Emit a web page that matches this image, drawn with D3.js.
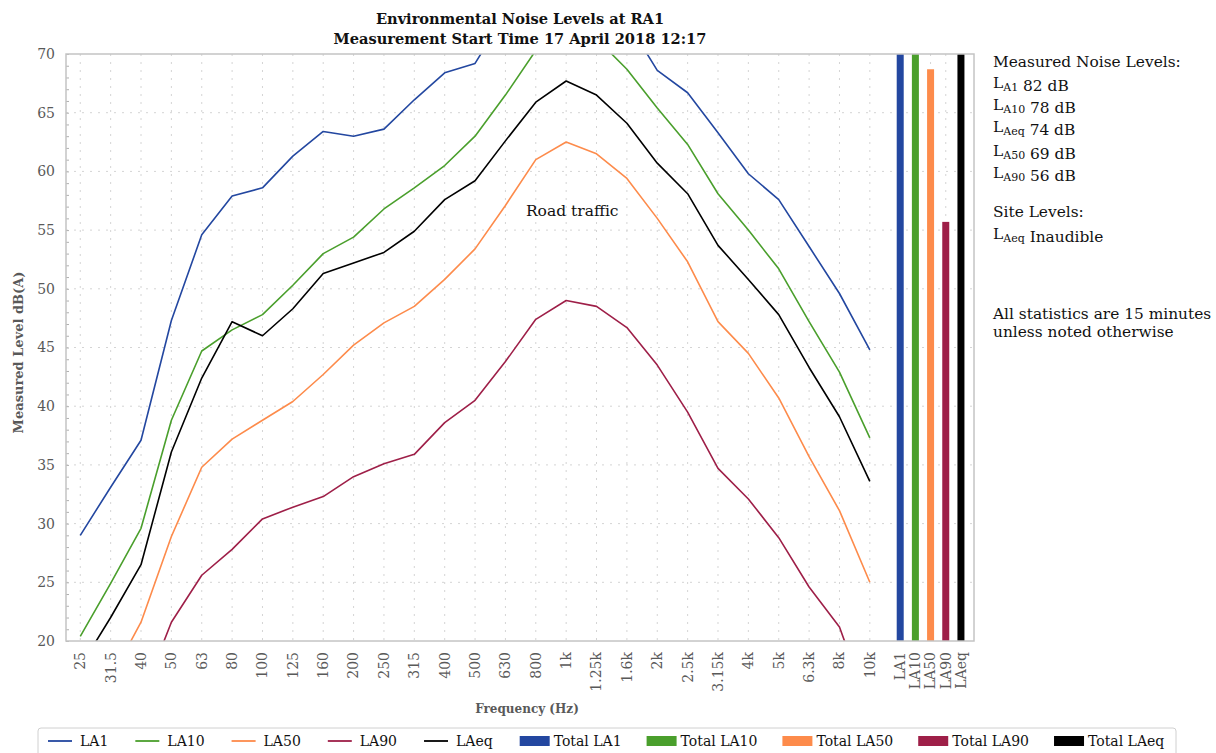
<!DOCTYPE html>
<html lang="en">
<head>
<meta charset="UTF-8">
<script src="https://cdn.jsdelivr.net/npm/d3@7"></script>
<title>Environmental Noise Levels at RA1</title>
<style>
    body { margin: 0; background: #fff; }
    text { font-family: "DejaVu Serif", serif; }
</style>
</head>
<body>
<div id="chart"></div>
<script>
// third-octave bands + overall columns
const freqLabels = ["25","31.5","40","50","63","80","100","125","160","200","250","315","400","500",
    "630","800","1k","1.25k","1.6k","2k","2.5k","3.15k","4k","5k","6.3k","8k","10k"];
const totalLabels = ["LA1","LA10","LA50","LA90","LAeq"];

const la1  = [29.0,33.1,37.1,47.3,54.6,57.9,58.6,61.3,63.4,63.0,63.6,66.1,68.4,69.2,
    73.4,75.5,76.5,75.5,72.8,68.6,66.7,63.3,59.8,57.6,53.6,49.6,44.8];
const la10 = [20.4,24.9,29.6,38.8,44.7,46.5,47.8,50.3,53.0,54.4,56.8,58.6,60.5,63.0,
    66.5,70.3,72.0,71.3,68.7,65.4,62.3,58.1,55.0,51.7,47.2,42.9,37.3];
const la50 = [14.0,16.8,21.6,28.9,34.8,37.2,38.8,40.4,42.7,45.2,47.1,48.5,50.8,53.4,
    57.1,61.0,62.5,61.5,59.4,56.0,52.3,47.2,44.5,40.7,35.7,31.1,25.0];
const la90 = [10.0,12.0,15.0,21.6,25.6,27.8,30.4,31.4,32.3,34.0,35.1,35.9,38.6,40.5,
    43.8,47.4,49.0,48.5,46.7,43.5,39.5,34.7,32.1,28.8,24.6,21.2,14.0];
const laeq = [17.8,22.0,26.5,36.1,42.4,47.2,46.0,48.3,51.3,52.2,53.1,54.9,57.6,59.2,
    62.6,65.9,67.7,66.5,64.1,60.7,58.1,53.7,50.8,47.8,43.3,39.1,33.6];
const totals = [82, 78, 68.7, 55.7, 74];

const seriesNames = ["LA1","LA10","LA50","LA90","LAeq"];
const seriesData = [la1, la10, la50, la90, laeq];
const seriesColors = ["#2347a0","#4a9f2c","#fd8b4b","#9e1f48","#000000"];

const yTicks = [20,25,30,35,40,45,50,55,60,65,70];

const W = 1216, H = 753;
const plot = {left: 66, right: 974, top: 54, bottom: 641};
const axisGrey = "#595959";

const svg = d3.select("#chart").append("svg")
    .attr("width", W)
    .attr("height", H);

// category positions: bands at 0..26, overall columns half a step apart after that
const catPos = freqLabels.map((d, i) => i)
    .concat(totalLabels.map((d, j) => freqLabels.length + j * 0.5));

const x = d3.scaleLinear().domain([-0.47, 29.43]).range([plot.left, plot.right]);
const y = d3.scaleLinear().domain([20, 70]).range([plot.bottom, plot.top]);

svg.append("clipPath").attr("id", "clip")
    .append("rect")
    .attr("x", plot.left).attr("y", plot.top)
    .attr("width", plot.right - plot.left)
    .attr("height", plot.bottom - plot.top);

// grid
svg.append("g").selectAll("line")
    .data(catPos)
    .join("line")
    .attr("x1", d => x(d)).attr("x2", d => x(d))
    .attr("y1", plot.top).attr("y2", plot.bottom)
    .attr("stroke", "#d4d4d4")
    .attr("stroke-dasharray", "2,6");

svg.append("g").selectAll("line")
    .data(yTicks.slice(1, -1))
    .join("line")
    .attr("x1", plot.left).attr("x2", plot.right)
    .attr("y1", d => y(d)).attr("y2", d => y(d))
    .attr("stroke", "#d4d4d4")
    .attr("stroke-dasharray", "2,6");

// minor ticks inside the left edge
svg.append("g")
    .attr("transform", `translate(${plot.left},0)`)
    .call(d3.axisRight(y).tickValues(d3.range(20, 71, 1)).tickSize(3).tickFormat(""))
    .call(g => g.select(".domain").remove())
    .call(g => g.selectAll("line").attr("stroke", "#b0b0b0"));

// y tick labels
svg.append("g")
    .attr("transform", `translate(${plot.left},0)`)
    .call(d3.axisLeft(y).tickValues(yTicks).tickSize(0).tickPadding(11))
    .call(g => g.select(".domain").remove())
    .call(g => g.selectAll("text")
        .attr("fill", axisGrey)
        .style("font-family", "DejaVu Serif")
        .style("font-size", "14px"));

// overall bars
svg.append("g").attr("clip-path", "url(#clip)")
    .selectAll("rect")
    .data(totals)
    .join("rect")
    .attr("x", (d, j) => x(catPos[freqLabels.length + j]) - 3.5)
    .attr("width", 7)
    .attr("y", d => y(d))
    .attr("height", d => y(20) - y(d))
    .attr("fill", (d, j) => seriesColors[j]);

// spectrum lines
const line = d3.line()
    .x((d, i) => x(catPos[i]))
    .y(d => y(d));

svg.append("g").attr("clip-path", "url(#clip)")
    .selectAll("path")
    .data(seriesData)
    .join("path")
    .attr("d", line)
    .attr("fill", "none")
    .attr("stroke", (d, i) => seriesColors[i])
    .attr("stroke-width", 1.6)
    .attr("stroke-linejoin", "round");

// plot frame
svg.append("rect")
    .attr("x", plot.left).attr("y", plot.top)
    .attr("width", plot.right - plot.left)
    .attr("height", plot.bottom - plot.top)
    .attr("fill", "none")
    .attr("stroke", "#c4c4c4")
    .attr("stroke-width", 1.5);

// x labels, rotated
svg.append("g").selectAll("text")
    .data(freqLabels.concat(totalLabels))
    .join("text")
    .attr("transform", (d, i) => `translate(${x(catPos[i])},652) rotate(-90)`)
    .attr("dy", "0.35em")
    .attr("text-anchor", "end")
    .attr("fill", axisGrey)
    .style("font-size", "14px")
    .text(d => d);

// titles
const cx = (plot.left + plot.right) / 2;
const title = svg.append("text")
    .attr("text-anchor", "middle")
    .attr("font-weight", "bold")
    .attr("fill", "#111")
    .style("font-size", "14.6px");
title.append("tspan").attr("x", cx).attr("y", 24)
    .text("Environmental Noise Levels at RA1");
title.append("tspan").attr("x", cx).attr("y", 44)
    .text("Measurement Start Time 17 April 2018 12:17");

svg.append("text")
    .attr("transform", `translate(23,${(plot.top + plot.bottom) / 2 + 5}) rotate(-90)`)
    .attr("text-anchor", "middle")
    .attr("font-weight", "bold")
    .attr("fill", axisGrey)
    .style("font-size", "13px")
    .text("Measured Level dB(A)");

svg.append("text")
    .attr("x", 527).attr("y", 713)
    .attr("text-anchor", "middle")
    .attr("font-weight", "bold")
    .attr("fill", axisGrey)
    .style("font-size", "12px")
    .text("Frequency (Hz)");

svg.append("text")
    .attr("x", x(16.2)).attr("y", y(56.2))
    .attr("text-anchor", "middle")
    .attr("fill", "#111")
    .style("font-size", "15.5px")
    .text("Road traffic");

// side notes
const notes = [
    {y: 67, parts: [["Measured Noise Levels:", false]]},
    {y: 88, parts: [["L", false], ["A1", true], [" 82 dB", false]]},
    {y: 110, parts: [["L", false], ["A10", true], [" 78 dB", false]]},
    {y: 132, parts: [["L", false], ["Aeq", true], [" 74 dB", false]]},
    {y: 156, parts: [["L", false], ["A50", true], [" 69 dB", false]]},
    {y: 178, parts: [["L", false], ["A90", true], [" 56 dB", false]]},
    {y: 217, parts: [["Site Levels:", false]]},
    {y: 239, parts: [["L", false], ["Aeq", true], [" Inaudible", false]]},
    {y: 319, parts: [["All statistics are 15 minutes", false]]},
    {y: 337, parts: [["unless noted otherwise", false]]}
];
notes.forEach(n => {
    const t = svg.append("text")
        .attr("x", 993).attr("y", n.y)
        .attr("fill", "#111")
        .style("font-size", "15.4px");
    n.parts.forEach(([s, sub]) => {
        t.append("tspan")
            .attr("dy", sub ? 3 : 0)
            .style("font-size", sub ? "11px" : null)
            .text(s);
        if (sub) t.append("tspan").attr("dy", -3).text("");
    });
});

// legend
const legend = svg.append("g");
legend.append("rect")
    .attr("x", 38).attr("y", 728)
    .attr("width", 1138).attr("height", 40)
    .attr("rx", 3)
    .attr("fill", "#fff")
    .attr("stroke", "#d0d0d0");

const legendItems = seriesNames.map((s, i) => ({label: s, color: seriesColors[i], kind: "line"}))
    .concat(totalLabels.map((s, j) => ({label: "Total " + s, color: seriesColors[j], kind: "bar"})));

let lx = 48;
legendItems.forEach(it => {
    const sw = it.kind === "line" ? 24 : 30;
    if (it.kind === "line") {
        legend.append("line")
            .attr("x1", lx).attr("x2", lx + sw)
            .attr("y1", 741).attr("y2", 741)
            .attr("stroke", it.color).attr("stroke-width", 1.8);
    } else {
        legend.append("rect")
            .attr("x", lx).attr("y", 736)
            .attr("width", sw).attr("height", 10)
            .attr("fill", it.color);
    }
    const gap = it.kind === "line" ? 8 : 4;
    const t = legend.append("text")
        .attr("x", lx + sw + gap).attr("y", 746)
        .attr("fill", "#111")
        .style("font-size", "14px")
        .text(it.label);
    lx += sw + gap + t.node().getComputedTextLength() + (it.kind === "line" ? 27 : 25);
});
</script>
</body>
</html>
